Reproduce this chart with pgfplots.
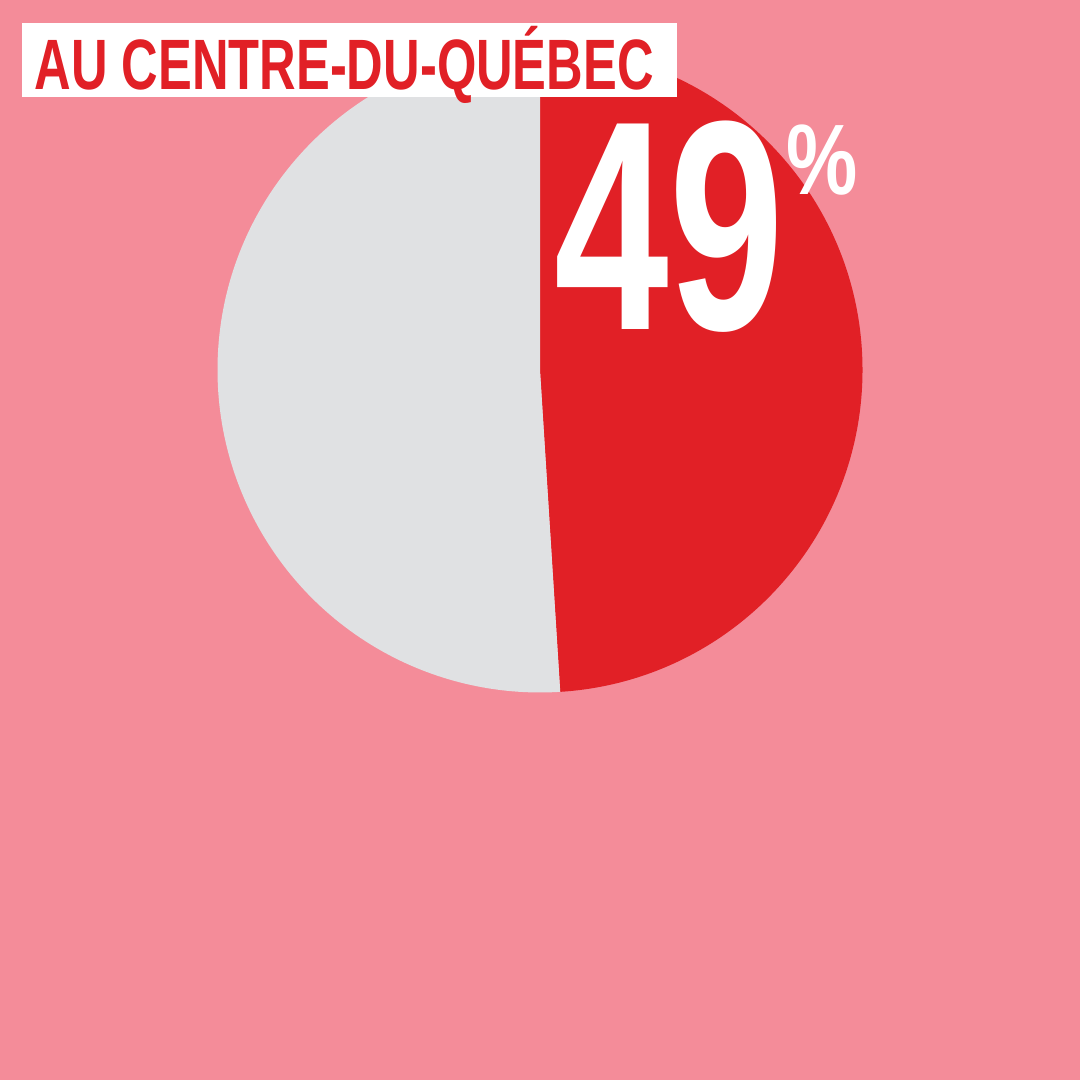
\documentclass[border=0pt]{standalone}
\usepackage{pgfplots}
\pgfplotsset{compat=1.18}
\usepackage{fontspec}
\setmainfont{Liberation Sans}
\definecolor{bgpink}{HTML}{F48C99}
\definecolor{pred}{HTML}{E12026}
\definecolor{pgray}{HTML}{E0E1E3}
\begin{document}
\begin{tikzpicture}
% background 1080 x 1080 px, 1px = 0.01cm
\fill[bgpink] (0,0) rectangle (10.8cm,10.8cm);
\def\valA{49}
\def\valB{51}
\begin{axis}[
  hide axis, scale only axis,
  width=6.45cm, height=6.45cm,
  xmin=-1, xmax=1, ymin=-1, ymax=1,
  at={(5.40cm,7.10cm)}, anchor=center,
  clip=false,
]
\addplot[draw=none, forget plot] coordinates {(-1,-1) (1,1)};
\fill[pred] (axis cs:0,0) -- (axis cs:0,1) arc[start angle=90, delta angle=-\valA*3.6, radius=3.225cm] -- cycle;
\fill[pgray] (axis cs:0,0) -- (axis cs:0,1) arc[start angle=90, delta angle=\valB*3.6, radius=3.225cm] -- cycle;
\end{axis}
% title box
\fill[white] (0.22cm,9.83cm) rectangle (6.77cm,10.57cm);
\node[anchor=base west, inner sep=0pt, text=pred] at (0.34cm,9.90cm)
  {\scalebox{0.71}[1]{\fontsize{20.3pt}{20.3pt}\selectfont\bfseries AU CENTRE-DU-QUÉBEC}};
% big number
\node[anchor=base west, inner sep=0pt, text=white] at (5.54cm,7.50cm)
  {\scalebox{0.69}[1]{\fontsize{85pt}{85pt}\selectfont\bfseries 49}};
\node[anchor=base west, inner sep=0pt, text=white] at (7.86cm,8.85cm)
  {\scalebox{0.8}[1]{\fontsize{28.5pt}{28.5pt}\selectfont\bfseries\%}};
\end{tikzpicture}
\end{document}
